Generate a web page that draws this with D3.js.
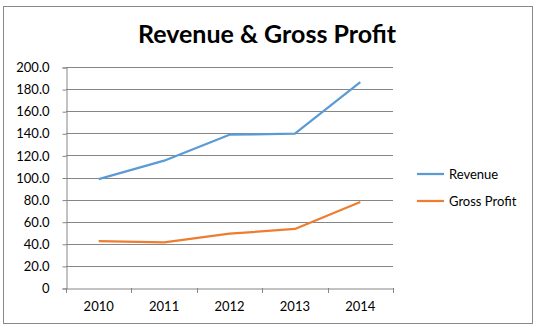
<!DOCTYPE html>
<html>
<head>
<meta charset="utf-8">
<script src="https://cdn.jsdelivr.net/npm/d3@7"></script>
<style>
  body { margin: 0; background: #fff; }
  text { font-family: Lato, "Open Sans", sans-serif; fill: #000; }
</style>
</head>
<body>
<svg id="chart" width="539" height="331"></svg>
<script>
const years = ['2010', '2011', '2012', '2013', '2014'];
const revenue = [98.6, 115.2, 138.7, 139.6, 186.4];
const grossProfit = [42.5, 41.3, 49.2, 53.4, 77.8];
const yTicks = [0, 20, 40, 60, 80, 100, 120, 140, 160, 180, 200];

const seriesList = [
  { name: 'Revenue', values: revenue, color: '#5b9bd5' },
  { name: 'Gross Profit', values: grossProfit, color: '#ed7d31' },
];

const svg = d3.select('#chart');

// chart frame
svg.append('rect')
  .attr('x', 3.5).attr('y', 6.5)
  .attr('width', 529).attr('height', 317)
  .attr('fill', '#fff').attr('stroke', '#888').attr('stroke-width', 1);

const plot = { left: 66, right: 393, top: 67, bottom: 288 };

const x = d3.scaleBand().domain(years).range([plot.left, plot.right]);
const y = d3.scaleLinear().domain([0, 200]).range([plot.bottom, plot.top]);

// gridlines
svg.append('g')
  .selectAll('line')
  .data(yTicks.slice(1))
  .join('line')
  .attr('x1', plot.left).attr('x2', plot.right)
  .attr('y1', d => Math.round(y(d)) + 0.5).attr('y2', d => Math.round(y(d)) + 0.5)
  .attr('stroke', '#868686');

// y axis
const yAxis = svg.append('g')
  .attr('transform', `translate(${plot.left + 0.5},0.5)`)
  .call(d3.axisLeft(y).tickValues(yTicks).tickSize(4).tickPadding(13)
    .tickFormat(d => d === 0 ? '0' : d3.format('.1f')(d)));
yAxis.select('.domain').attr('stroke', '#868686');
yAxis.selectAll('.tick line').attr('stroke', '#868686');
yAxis.selectAll('.tick text').attr('font-size', 13).attr('font-family', 'Lato, sans-serif');

// x axis
const xAxis = svg.append('g')
  .attr('transform', `translate(0,${plot.bottom + 0.5})`)
  .call(d3.axisBottom(x).tickSize(0).tickPadding(13));
xAxis.select('.domain').attr('stroke', '#868686');
xAxis.selectAll('.tick text').attr('font-size', 13).attr('font-family', 'Lato, sans-serif');

// category boundary ticks
const bounds = years.map(d => x(d)).concat([plot.right]);
svg.append('g')
  .selectAll('line')
  .data(bounds)
  .join('line')
  .attr('x1', d => Math.round(d) + 0.5).attr('x2', d => Math.round(d) + 0.5)
  .attr('y1', plot.bottom).attr('y2', plot.bottom + 5)
  .attr('stroke', '#868686');

// lines
const line = d3.line()
  .x((d, i) => x(years[i]) + x.bandwidth() / 2)
  .y(d => y(d));

svg.append('g')
  .selectAll('path')
  .data(seriesList)
  .join('path')
  .attr('d', d => line(d.values))
  .attr('fill', 'none')
  .attr('stroke', d => d.color)
  .attr('stroke-width', 2.25)
  .attr('stroke-linejoin', 'round');

// legend
const legend = svg.append('g')
  .selectAll('g')
  .data(seriesList)
  .join('g')
  .attr('transform', (d, i) => `translate(417,${174 + i * 27})`);
legend.append('line')
  .attr('x1', 0).attr('x2', 27)
  .attr('stroke', d => d.color).attr('stroke-width', 2.25);
legend.append('text')
  .attr('x', 32).attr('dy', '0.35em')
  .attr('font-size', 13)
  .text(d => d.name);

// title
svg.append('text')
  .attr('x', 267).attr('y', 43)
  .attr('text-anchor', 'middle')
  .attr('font-size', 25).attr('font-weight', 'bold')
  .text('Revenue & Gross Profit');
</script>
</body>
</html>
